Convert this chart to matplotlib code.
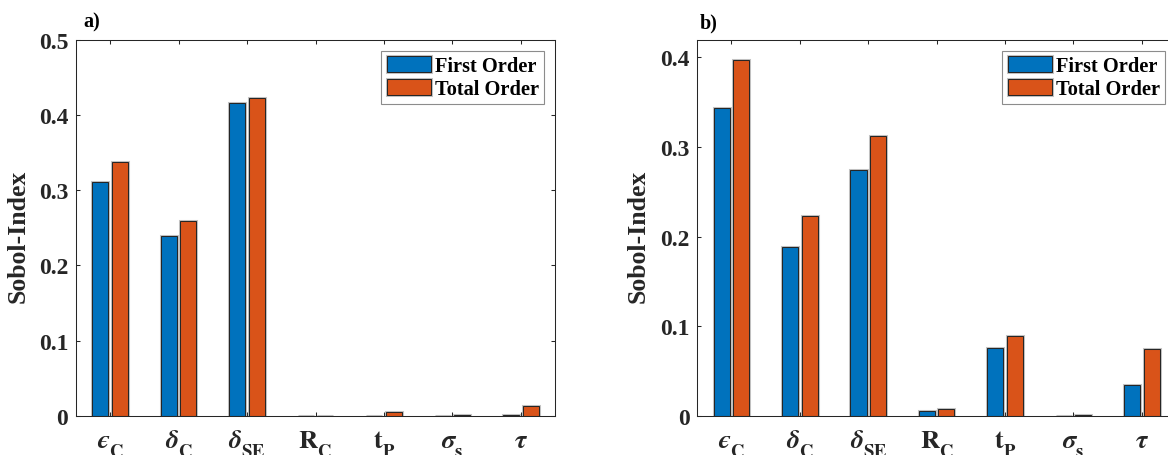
import matplotlib
matplotlib.use('Agg')
import matplotlib.pyplot as plt
import numpy as np
from matplotlib import patheffects as pe

try:
    import matplotlib._mathtext as _mt
    _mt.STIXFontConstants.sub1 = 0.8
except Exception:
    pass

plt.rcParams['font.family'] = ['Liberation Serif', 'DejaVu Serif']
plt.rcParams['font.weight'] = 'bold'
plt.rcParams['mathtext.fontset'] = 'stix'

categories = ['$\u03f5_{\\mathbf{C}}$', r'$\delta_{\mathbf{C}}$', r'$\delta_{\mathbf{SE}}$',
              r'$\mathbf{R}_{\mathbf{C}}$', r'$\mathbf{t}_{\mathbf{P}}$', r'$\sigma_{\mathbf{s}}$', r'$\tau$']
series_names = ['First Order', 'Total Order']

first_a = [0.3105, 0.2396, 0.4155, 0.0004, 0.0003, 0.0004, 0.0017]
total_a = [0.3380, 0.2587, 0.4220, 0.0004, 0.0050, 0.0008, 0.0129]
first_b = [0.3431, 0.1888, 0.2747, 0.0052, 0.0758, 0.0002, 0.0346]
total_b = [0.3966, 0.2227, 0.3119, 0.0074, 0.0892, 0.0012, 0.0747]

yticks_a = [0, 0.1, 0.2, 0.3, 0.4, 0.5]
ytick_labels_a = ['0', '0.1', '0.2', '0.3', '0.4', '0.5']
yticks_b = [0, 0.1, 0.2, 0.3, 0.4]
ytick_labels_b = ['0', '0.1', '0.2', '0.3', '0.4']

panel_labels = ['a)', 'b)']

BLUE = '#0072BD'
ORANGE = '#D95319'
DARK = '#262626'

W, H = 1168, 456
fig = plt.figure(figsize=(W / 100, H / 100), dpi=100)

ax_a = fig.add_axes([76 / W, (H - 417) / H, 479 / W, 376.3 / H])
ax_b = fig.add_axes([697.3 / W, (H - 417) / H, 478.7 / W, 376.3 / H])

x = np.arange(1, len(categories) + 1)
offset = 0.143
width = 0.235
halo = [pe.Stroke(linewidth=2.2, foreground='#c4c4c4'), pe.Normal()]

panels = [
    (ax_a, first_a, total_a, yticks_a, ytick_labels_a, 0.5, (30 - 76) / 479),
    (ax_b, first_b, total_b, yticks_b, ytick_labels_b, 0.4196, (650 - 697.3) / 478.7),
]

for i, (ax, fo, to, yt, ytl, ytop, ylx) in enumerate(panels):
    b1 = ax.bar(x - offset, fo, width, color=BLUE, edgecolor=DARK, linewidth=0.75,
                label=series_names[0], zorder=2)
    b2 = ax.bar(x + offset, to, width, color=ORANGE, edgecolor=DARK, linewidth=0.75,
                label=series_names[1], zorder=2)
    for p in list(b1) + list(b2):
        p.set_path_effects(halo)
    ax.set_xlim(0.5, len(categories) + 0.5)
    ax.set_ylim(0, ytop)
    ax.set_xticks(x)
    ax.set_xticklabels(categories)
    ax.set_yticks(yt)
    ax.set_yticklabels(ytl)
    ax.tick_params(direction='in', length=3.2, width=0.75, colors=DARK,
                   top=True, right=True, labelsize=17)
    ax.tick_params(axis='y', pad=5.5)
    ax.tick_params(axis='x', pad=22.3)
    for lbl in ax.get_xticklabels():
        lbl.set_verticalalignment('baseline')
        lbl.set_fontsize(19)
    for lbl in ax.get_yticklabels():
        lbl.set_fontweight('bold')
    for s in ax.spines.values():
        s.set_color(DARK)
        s.set_linewidth(0.75)
        s.set_zorder(3)
    ax.set_ylabel('Sobol-Index', fontsize=18.5, fontweight='bold', color=DARK)
    ax.yaxis.set_label_coords(ylx, (417 - 236) / 376.3)
    leg = ax.legend(loc='upper right', fontsize=14.7, frameon=True, fancybox=False,
                    framealpha=1, edgecolor='#8c8c8c', borderaxespad=0.55,
                    handlelength=2.2, handleheight=0.8, handletextpad=0.15,
                    labelspacing=0.15, borderpad=0.25)
    leg.get_frame().set_linewidth(0.8)
    for t in leg.get_texts():
        t.set_fontweight('bold')

fig.text(83 / W, 1 - 27 / H, panel_labels[0], fontsize=14.5, fontweight='bold', va='baseline')
fig.text(699.5 / W, 1 - 28 / H, panel_labels[1], fontsize=14.5, fontweight='bold', va='baseline')

fig.savefig('out.png', dpi=100)
